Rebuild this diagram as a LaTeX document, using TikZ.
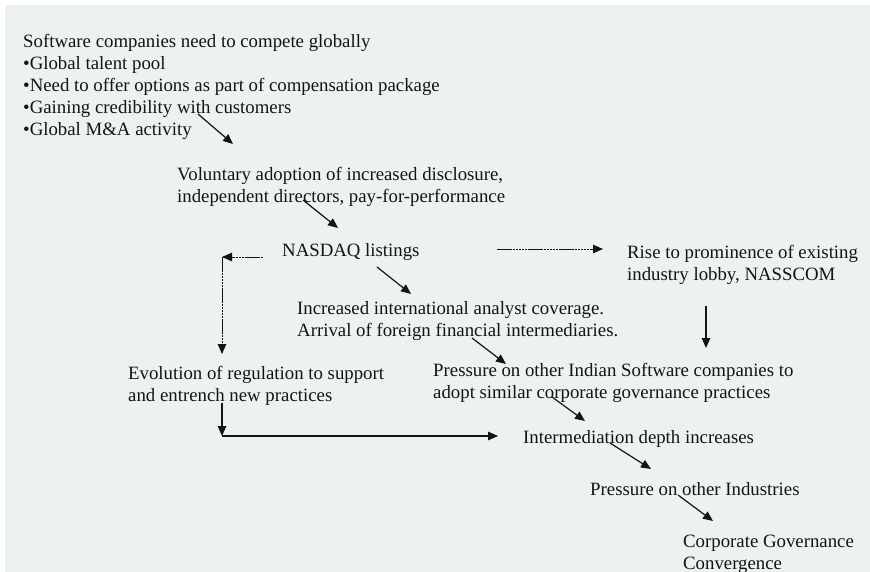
\documentclass[tikz,border=0pt]{standalone}
\usepackage{fontspec}
\setmainfont{Liberation Serif}
\usetikzlibrary{arrows.meta}
\definecolor{bgc}{RGB}{237,242,239}
\definecolor{ink}{RGB}{20,20,20}
\begin{document}
\begin{tikzpicture}[x=1pt,y=-1pt,
  lbl/.style={anchor=west,inner sep=0pt,align=left,text=ink,font=\fontsize{18.8}{22}\selectfont},
  arr/.style={draw=ink,line width=1.2pt,-{Triangle[length=10pt,width=8.5pt]}},
  dotarr/.style={arr,line width=1pt,dash pattern=on 2.5pt off 0.6pt}]
\useasboundingbox (0,0) rectangle (870,572);
\fill[white] (0,0) rectangle (870,572);
\fill[bgc] (5,5) rectangle (870,572);
\node[lbl] (n1) at (23,87) {Software companies need to compete globally\\
•Global talent pool\\
•Need to offer options as part of compensation package\\
•Gaining credibility with customers\\
•Global M\&A activity};
\node[lbl] (n2) at (177,187) {Voluntary adoption of increased disclosure,\\independent directors, pay-for-performance};
\node[lbl] (n3) at (282,252) {NASDAQ listings};
\node[lbl] (n4) at (627,265) {Rise to prominence of existing\\industry lobby, NASSCOM};
\node[lbl] (n5) at (297,321) {Increased international analyst coverage.\\Arrival of foreign financial intermediaries.};
\node[lbl] (n6) at (128,386) {Evolution of regulation to support\\and entrench new practices};
\node[lbl] (n7) at (433,383) {Pressure on other Indian Software companies to\\adopt similar corporate governance practices};
\node[lbl] (n8) at (523,439) {Intermediation depth increases};
\node[lbl] (n9) at (590,489) {Pressure on other Industries};
\node[lbl] (n10) at (683,554) {Corporate Governance\\Convergence};
% connector endpoints
\coordinate (a1s) at (198,114); \coordinate (a1e) at (233,144);
\coordinate (a2s) at (303,200); \coordinate (a2e) at (338,228);
\coordinate (a3s) at (377,267); \coordinate (a3e) at (411,294);
\coordinate (a4s) at (472,338); \coordinate (a4e) at (506,364);
\coordinate (a5s) at (552,397); \coordinate (a5e) at (585,421);
\coordinate (a6s) at (610,443); \coordinate (a6e) at (651,469);
\coordinate (a7s) at (678,495); \coordinate (a7e) at (713,521);
\coordinate (lS) at (263,257); \coordinate (lC) at (222,257); \coordinate (lE) at (222,354);
\coordinate (rS) at (497,249); \coordinate (rE) at (603,249);
\coordinate (dS) at (706,306); \coordinate (dE) at (706,348);
\coordinate (bS) at (222,403); \coordinate (bC) at (222,436); \coordinate (bE) at (498,436);
\draw[arr] (a1s) -- (a1e);
\draw[arr] (a2s) -- (a2e);
\draw[arr] (a3s) -- (a3e);
\draw[arr] (a4s) -- (a4e);
\draw[arr] (a5s) -- (a5e);
\draw[arr] (a6s) -- (a6e);
\draw[arr] (a7s) -- (a7e);
\draw[dotarr] (lS) -- (lC);
\draw[dotarr] (lC) -- (lE);
\draw[dotarr] (rS) -- (rE);
\draw[arr] (dS) -- (dE);
\draw[arr] (bS) -- (bC);
\draw[arr] (bC) -- (bE);
\end{tikzpicture}
\end{document}
